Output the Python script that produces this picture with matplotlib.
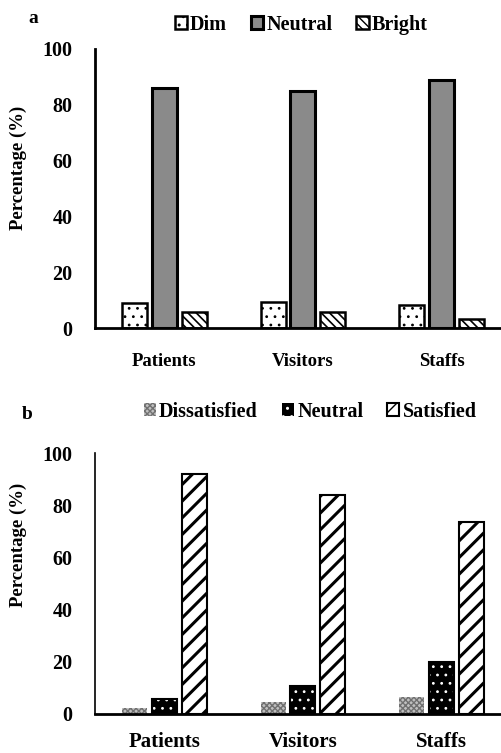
import matplotlib.pyplot as plt
import numpy as np

plt.rcParams['font.family'] = ['Liberation Serif', 'DejaVu Serif']
plt.rcParams['font.weight'] = 'bold'

groups = ["Patients", "Visitors", "Staffs"]

# panel a - light level perception
dim = [9, 9.3, 8.2]
neutral_a = [86, 85, 89]
bright = [5.7, 5.7, 3.5]

# panel b - satisfaction
dissatisfied = [2.3, 4.6, 6.5]
neutral_b = [5.7, 10.7, 20]
satisfied = [92, 84, 73.5]

yticks = [0, 20, 40, 60, 80, 100]

fig = plt.figure(figsize=(5.02, 7.53), dpi=100)
ax1 = fig.add_axes([0.189, 0.564, 0.807, 0.371])
ax2 = fig.add_axes([0.189, 0.052, 0.807, 0.346])

x = np.arange(len(groups))
w = 0.18
step = 0.216


def hatch_lw(bars, lw):
    for b in bars:
        if hasattr(b, "set_hatch_linewidth"):
            b.set_hatch_linewidth(lw)


# ---- panel a ----
b1 = ax1.bar(x - step, dim, w, facecolor="white", edgecolor="black",
             linewidth=1.8, hatch="..", label="Dim")
hatch_lw(b1, 0.8)
ax1.bar(x, neutral_a, w, facecolor="#8a8a8a", edgecolor="black",
        linewidth=2.2, label="Neutral")
b3 = ax1.bar(x + step, bright, w, facecolor="white", edgecolor="black",
             linewidth=1.8, hatch="\\\\\\\\", label="Bright")
hatch_lw(b3, 1.2)

# ---- panel b ----
d = ax2.bar(x - step, dissatisfied, w, facecolor="#c0c0c0", edgecolor="#707070",
            linewidth=0, hatch="xxxxxx", label="Dissatisfied")
hatch_lw(d, 1.0)
n = ax2.bar(x, neutral_b, w, facecolor="black", edgecolor="white",
            linewidth=0, hatch="..", label="Neutral")
hatch_lw(n, 0.8)
ax2.bar(x, neutral_b, w, facecolor="none", edgecolor="black", linewidth=1.5)
s = ax2.bar(x + step, satisfied, w, facecolor="white", edgecolor="black",
            linewidth=1.5, hatch="//", label="Satisfied")
hatch_lw(s, 2.2)

for ax, xfs, xpad in [(ax1, 13.5, 18), (ax2, 15, 13)]:
    ax.set_xlim(-0.5, 2.42)
    ax.set_ylim(0, 100)
    ax.set_yticks(yticks)
    ax.set_xticks(x)
    ax.set_xticklabels(groups, fontsize=xfs, fontweight="bold")
    ax.tick_params(axis="y", length=0, pad=16, labelsize=14.5)
    ax.tick_params(axis="x", length=0, pad=xpad)
    for sp in ["top", "right"]:
        ax.spines[sp].set_visible(False)
    ax.spines["bottom"].set_linewidth(2)

ax1.spines["left"].set_linewidth(2)
ax2.spines["left"].set_linewidth(1.2)

leg_kw = dict(loc="center", ncol=3, frameon=False, handlelength=0.6,
              handleheight=0.6, handletextpad=0.15, columnspacing=1.2,
              bbox_transform=fig.transFigure,
              prop={"size": 14.5, "weight": "bold"})
ax1.legend(bbox_to_anchor=(0.60, 0.967), **leg_kw)
ax2.legend(bbox_to_anchor=(0.618, 0.453), **leg_kw)

fig.text(0.066, 0.976, "a", fontsize=14, fontweight="bold", ha="center", va="center")
fig.text(0.054, 0.449, "b", fontsize=14, fontweight="bold", ha="center", va="center")
fig.text(0.036, 0.777, "Percentage (%)", rotation=90, fontsize=13.5,
         fontweight="bold", ha="center", va="center")
fig.text(0.036, 0.276, "Percentage (%)", rotation=90, fontsize=13.5,
         fontweight="bold", ha="center", va="center")

fig.savefig("out.png", dpi=100)
